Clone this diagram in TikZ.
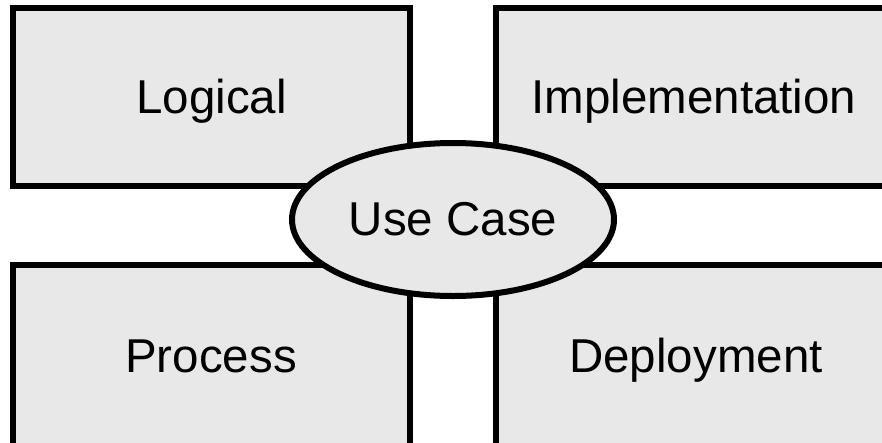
\documentclass[tikz,border=0pt]{standalone}
\usepackage{fontspec}
\setmainfont{Liberation Sans}
\usetikzlibrary{shapes.geometric}
\definecolor{panelgray}{HTML}{E8E8E8}
\tikzset{
  panel/.style={draw=black, fill=panelgray, line width=6pt, rectangle, inner sep=0pt},
  label/.style={anchor=base, inner sep=0pt, font=\fontsize{47.5}{57}\selectfont},
  hub/.style={draw=black, fill=panelgray, line width=6pt, ellipse, inner sep=0pt,
              font=\fontsize{47.5}{57}\selectfont}
}
\begin{document}
\begin{tikzpicture}[x=1pt, y=-1pt]
  \clip (0,0) rectangle (882,442);
  \fill[white] (0,0) rectangle (882,442);
  % four view panels (right and lower ones run past the edge)
  \node[panel, minimum width=397pt, minimum height=178pt] (logicalbox) at (211.5,97) {};
  \node[panel, minimum width=500pt, minimum height=178pt] (implbox) at (746,97) {};
  \node[panel, minimum width=397pt, minimum height=240pt] (processbox) at (211.5,385) {};
  \node[panel, minimum width=500pt, minimum height=240pt] (deploybox) at (746,385) {};
  % panel titles
  \node[label] (logical) at (211.5,113) {Logical};
  \node[label] (impl) at (694,113) {Implementation};
  \node[label] (process) at (211,372) {Process};
  \node[label] (deploy) at (696,372) {Deployment};
  % central use case view
  \node[hub, minimum width=322pt, minimum height=153pt] (usecase) at (453,219.5) {Use Case};
\end{tikzpicture}
\end{document}
